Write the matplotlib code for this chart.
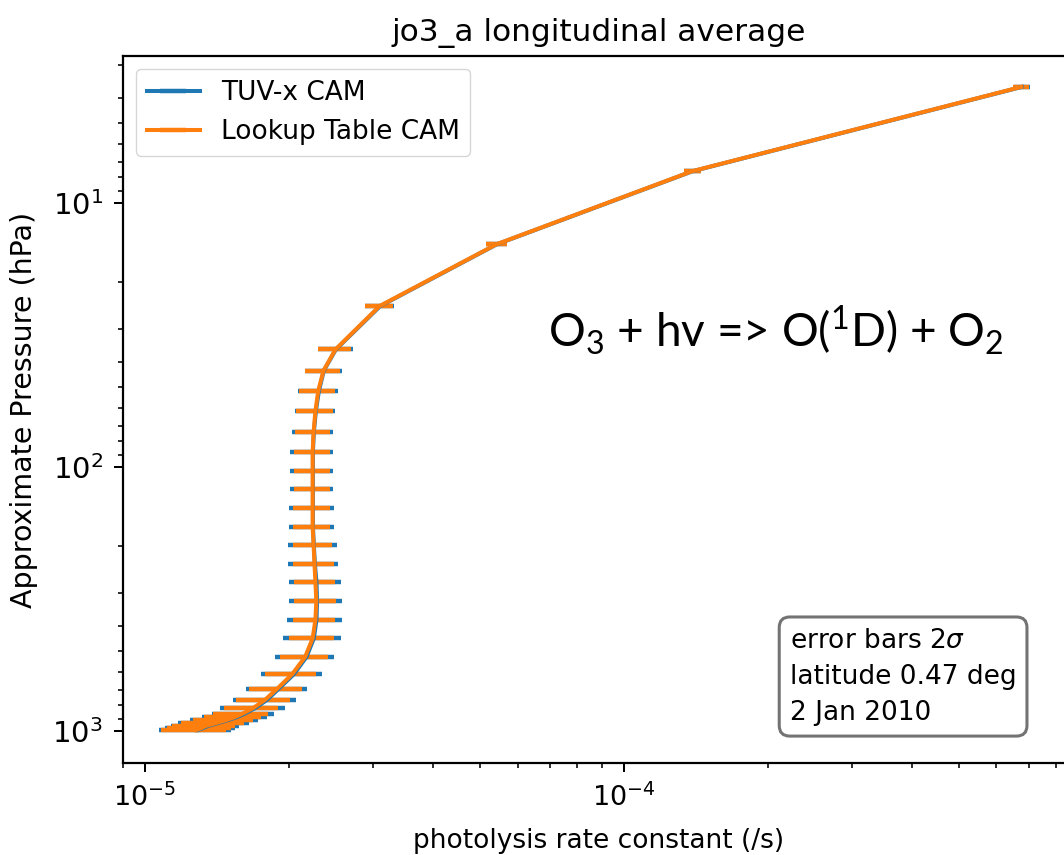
import matplotlib
matplotlib.use("Agg")
import matplotlib.pyplot as plt

# CAM mid-level pressures (hPa)
pressure = [3.64, 7.59, 14.36, 24.61, 35.92, 43.19, 51.68, 61.52, 73.75, 87.82,
            103.32, 121.55, 142.99, 168.23, 197.91, 232.83, 273.91, 322.24, 379.10, 445.99,
            524.69, 609.78, 691.39, 763.40, 820.86, 859.53, 887.02, 912.64, 936.20, 957.49,
            976.33, 992.56]

# photolysis rates, units of 1e-5 /s
tuv_j = [67.8, 13.93, 5.43, 3.10, 2.505, 2.364, 2.308, 2.275, 2.253, 2.243,
         2.243, 2.243, 2.243, 2.243, 2.253, 2.264, 2.282, 2.288, 2.282, 2.253,
         2.175, 2.047, 1.905, 1.798, 1.697, 1.618, 1.556, 1.483, 1.413, 1.354,
         1.321, 1.290]
tuv_err = [2.6, 0.58, 0.28, 0.22, 0.21, 0.21, 0.22, 0.22, 0.22, 0.23,
           0.23, 0.23, 0.24, 0.24, 0.26, 0.27, 0.28, 0.29, 0.30, 0.31,
           0.31, 0.30, 0.28, 0.27, 0.26, 0.24, 0.24, 0.24, 0.24, 0.22,
           0.22, 0.22]

lut_j = [67.6, 13.90, 5.42, 3.09, 2.50, 2.36, 2.30, 2.27, 2.25, 2.24,
         2.24, 2.24, 2.24, 2.24, 2.25, 2.26, 2.27, 2.28, 2.27, 2.24,
         2.16, 2.03, 1.89, 1.78, 1.68, 1.60, 1.54, 1.47, 1.40, 1.34,
         1.31, 1.28]
lut_err = [2.5, 0.56, 0.27, 0.21, 0.20, 0.20, 0.20, 0.20, 0.19, 0.19,
           0.19, 0.19, 0.20, 0.20, 0.21, 0.22, 0.22, 0.23, 0.23, 0.24,
           0.25, 0.25, 0.24, 0.23, 0.22, 0.21, 0.21, 0.21, 0.21, 0.20,
           0.20, 0.20]

scale = 1e-5
plt.rcParams['mathtext.rm'] = 'Lato'

fig = plt.figure(figsize=(10.64, 8.55), dpi=100)
ax = fig.add_axes([0.1156, 0.1076, 0.8947, 0.8269])

ax.errorbar([v * scale for v in tuv_j], pressure, xerr=[e * scale for e in tuv_err],
            color='C0', lw=2.9, elinewidth=3.2, label='TUV-x CAM')
ax.errorbar([v * scale for v in lut_j], pressure, xerr=[e * scale for e in lut_err],
            color='C1', lw=2.9, elinewidth=3.2, label='Lookup Table CAM')

ax.set_xscale('log')
ax.set_yscale('log')
ax.set_xlim(9.0e-6, 8.75e-4)
ax.set_ylim(1323, 2.78)

ax.set_title('jo3_a longitudinal average', fontsize=22.5, pad=11)
ax.set_xlabel('photolysis rate constant (/s)', fontsize=19, labelpad=12)
ax.set_ylabel('Approximate Pressure (hPa)', fontsize=20.5, labelpad=10)
ax.tick_params(which='major', length=6.5, width=1.45, pad=8)
ax.tick_params(axis='x', which='major', labelsize=19.5)
ax.tick_params(axis='y', which='major', labelsize=21)
ax.tick_params(which='minor', length=3.7, width=1.15)
for s in ax.spines.values():
    s.set_linewidth(1.6)

ax.legend(loc='upper left', fontsize=19, handlelength=2.0)

ax.text(0.9385, 0.053, 'error bars 2$\\sigma$\nlatitude 0.47 deg\n2 Jan 2010',
        transform=ax.transAxes, ha='right', va='bottom', multialignment='left',
        fontsize=19, linespacing=1.5,
        bbox=dict(boxstyle='round,pad=0.4', facecolor='white', edgecolor='black',
                  alpha=0.55, linewidth=2.2))

fig.text(548 / 1064, 1 - 347 / 855, 'O$_3$ + hv => O($^1$D) + O$_2$',
         fontsize=33, family='Lato', math_fontfamily='custom',
         ha='left', va='baseline')

fig.savefig('out.png', dpi=100)
